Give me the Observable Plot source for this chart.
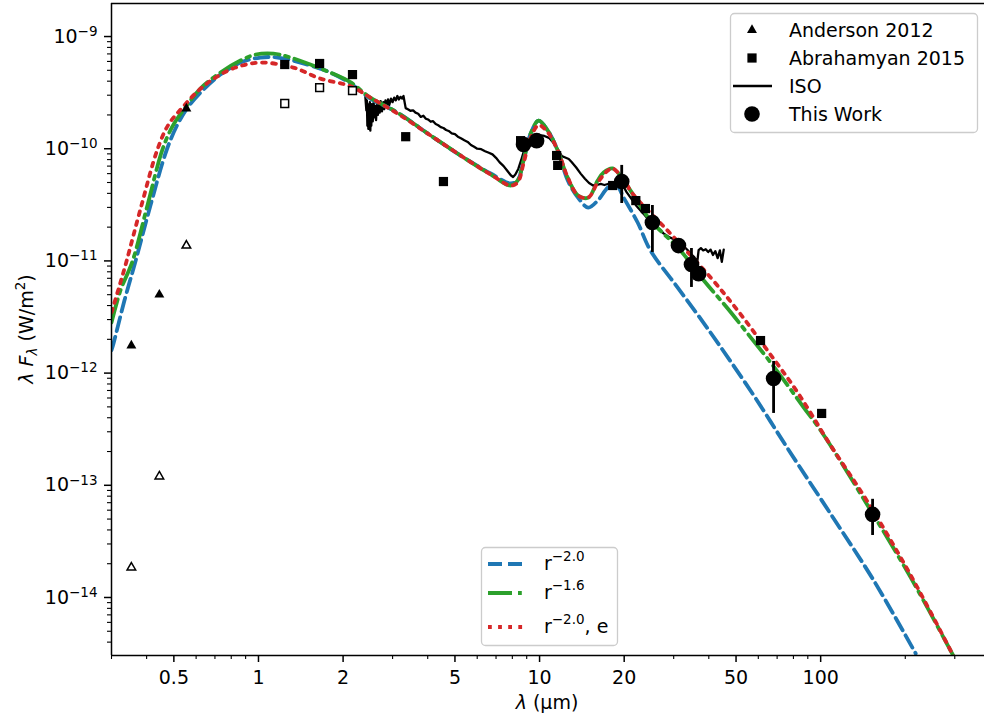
<!DOCTYPE html>
<html><head><meta charset="utf-8">
<script src="https://cdn.jsdelivr.net/npm/d3@7"></script>
<script src="https://cdn.jsdelivr.net/npm/@observablehq/plot@0.6"></script>
<style>
body{margin:0;background:#fff;font-family:"DejaVu Sans",sans-serif;}
#chart{position:relative;width:984px;height:719px;}
</style></head><body><div id="chart"></div>
<script>
// ---- Tick labels ----
const xMajorTicks = [0.5, 1, 2, 5, 10, 20, 50, 100];
const xMinorTicks = [0.3, 0.4, 0.6, 0.7, 0.8, 0.9, 3, 4, 6, 7, 8, 9, 30, 40, 60, 70, 80, 90, 200, 300];
const yMajorTicks = [1e-14, 1e-13, 1e-12, 1e-11, 1e-10, 1e-9];
const yMinorTicks = [4e-15,5e-15,6e-15,7e-15,8e-15,9e-15,
  2e-14,3e-14,4e-14,5e-14,6e-14,7e-14,8e-14,9e-14,
  2e-13,3e-13,4e-13,5e-13,6e-13,7e-13,8e-13,9e-13,
  2e-12,3e-12,4e-12,5e-12,6e-12,7e-12,8e-12,9e-12,
  2e-11,3e-11,4e-11,5e-11,6e-11,7e-11,8e-11,9e-11,
  2e-10,3e-10,4e-10,5e-10,6e-10,7e-10,8e-10,9e-10];

// ---- Anderson 2012 ----
const andersonLam = [0.353, 0.444, 0.554];
const andersonFlux = [1.76e-12, 5.0e-12, 2.28e-10];
const andersonOpenFlux = [1.85e-14, 1.2e-13, 1.37e-11];

// ---- Abrahamyan 2015 ----
const abrahamyanLam = [1.24, 1.65, 2.16, 3.34, 4.55, 8.56, 11.5, 11.6, 18.2, 22.0, 23.8, 61.1, 100.8];
const abrahamyanFlux = [5.63e-10, 5.75e-10, 4.58e-10, 1.28e-10, 5.1e-11, 1.18e-10, 8.7e-11, 7.1e-11, 4.7e-11, 3.45e-11, 2.93e-11, 1.95e-12, 4.37e-13];
const abrahamyanOpenLam = [1.24, 1.65, 2.16];
const abrahamyanOpenFlux = [2.53e-10, 3.51e-10, 3.3e-10];

// ---- This Work ----
const workLam = [8.77, 9.76, 19.6, 25.2, 31.2, 34.7, 36.8, 68.0, 153];
const workFlux = [1.09e-10, 1.18e-10, 5.1e-11, 2.2e-11, 1.37e-11, 9.3e-12, 7.7e-12, 8.95e-13, 5.5e-14];
const workLo = [1.0e-10, 1.1e-10, 3.25e-11, 1.19e-11, 1.3e-11, 5.8e-12, 7.4e-12, 4.37e-13, 3.57e-14];
const workHi = [1.18e-10, 1.27e-10, 7.1e-11, 3.12e-11, 1.45e-11, 1.29e-11, 8.0e-12, 1.27e-12, 7.5e-14];

// ---- ISO spectrum ----
const isoLam = [2.40,2.42,2.43,2.44,2.45,2.46,2.47,2.48,2.49,2.50,2.51,2.52,2.53,2.55,2.57,2.58,2.60,2.62,2.64,2.66,
  2.68,2.70,2.72,2.75,2.78,2.80,2.83,2.86,2.89,2.92,2.96,3.00,3.04,3.08,3.12,3.16,3.20,3.24,3.28,3.31,
  3.34,3.40,3.47,3.55,3.62,3.70,3.78,3.86,3.94,4.02,4.10,4.18,4.27,4.36,4.45,4.55,4.65,4.75,4.87,5.00,
  5.12,5.25,5.40,5.55,5.70,5.85,6.00,6.20,6.40,6.60,6.80,7.00,7.20,7.45,7.70,7.90,8.05,8.20,8.40,8.60,
  8.80,9.00,9.30,9.60,10.0,10.4,10.8,11.2,11.6,12.0,12.4,12.7,13.0,13.5,14.0,14.5,15.0,15.5,16.0,16.5,
  17.0,17.5,18.0,18.6,19.2,19.8,20.4,21.1,22.2,23.4,24.5,25.5,26.5,27.6,29.0,30.9,32.3,33.6,34.6,35.5,
  36.4,36.8,37.5,38.2,39.0,39.8,40.6,41.4,42.2,43.0,43.8,44.5,45.2];
const isoFlux = [2.9e-10,2.2e-10,2.7e-10,1.6e-10,2.5e-10,1.5e-10,2.3e-10,1.7e-10,2.6e-10,1.45e-10,2.2e-10,1.6e-10,2.5e-10,1.75e-10,2.6e-10,1.9e-10,2.4e-10,1.8e-10,2.55e-10,2.0e-10,
  2.5e-10,2.1e-10,2.65e-10,2.15e-10,2.6e-10,2.25e-10,2.7e-10,2.35e-10,2.75e-10,2.45e-10,2.8e-10,2.6e-10,2.85e-10,2.7e-10,2.95e-10,2.75e-10,2.9e-10,2.8e-10,2.95e-10,2.6e-10,
  2.3e-10,2.25e-10,2.18e-10,2.2e-10,2.1e-10,2.05e-10,1.92e-10,1.97e-10,1.85e-10,1.82e-10,1.74e-10,1.76e-10,1.66e-10,1.62e-10,1.56e-10,1.53e-10,1.47e-10,1.44e-10,1.37e-10,1.35e-10,
  1.28e-10,1.24e-10,1.19e-10,1.15e-10,1.08e-10,1.04e-10,1.0e-10,9.9e-11,9.5e-11,9.2e-11,8.9e-11,8.3e-11,7.6e-11,7.0e-11,6.3e-11,5.8e-11,5.6e-11,5.9e-11,6.6e-11,7.9e-11,
  9.6e-11,1.1e-10,1.22e-10,1.29e-10,1.32e-10,1.3e-10,1.25e-10,1.13e-10,9.9e-11,8.6e-11,8.3e-11,8.1e-11,7.6e-11,6.8e-11,6.0e-11,5.4e-11,4.95e-11,4.7e-11,4.75e-11,4.85e-11,
  4.75e-11,4.85e-11,4.9e-11,5.0e-11,5.05e-11,4.7e-11,4.1e-11,3.65e-11,3.05e-11,2.64e-11,2.3e-11,2.12e-11,1.95e-11,1.76e-11,1.62e-11,1.52e-11,1.38e-11,1.25e-11,1.15e-11,1.08e-11,
  9.8e-12,1.25e-11,1.3e-11,1.24e-11,1.27e-11,1.2e-11,1.26e-11,1.13e-11,1.22e-11,1.06e-11,1.24e-11,9.8e-12,1.26e-11];

// ---- Models ----
const blueLam = [0.30,0.305,0.3335,0.365,0.4127,0.4707,0.5149,0.5634,0.6477,0.7324,0.863,1.016,1.17,1.41,1.80,2.13,2.50,3.12,4.10,5.37,6.70,7.88,8.35,8.77,9.29,9.92,10.7,11.6,12.6,13.7,14.9,16.1,17.5,18.64,19.9,22.33,24.8,31.0,39.6,57.8,76.3,111.2,154.4,217.8];
const blueFlux = [1.6e-12,1.84e-12,4.43e-12,9.88e-12,3.12e-11,9.64e-11,1.64e-10,2.38e-10,3.51e-10,4.58e-10,5.86e-10,6.50e-10,6.50e-10,5.86e-10,4.78e-10,3.81e-10,2.80e-10,2.10e-10,1.31e-10,8.35e-11,6.01e-11,4.90e-11,5.21e-11,7.85e-11,1.36e-10,1.78e-10,1.45e-10,9.64e-11,5.21e-11,3.67e-11,2.99e-11,3.45e-11,4.51e-11,4.90e-11,3.67e-11,2.20e-11,1.24e-11,5.79e-12,2.50e-12,6.32e-13,2.13e-13,5.06e-14,1.42e-14,3.17e-15];
const greenLam = [0.30,0.3228,0.356,0.4027,0.4553,0.4943,0.5455,0.6217,0.7324,0.863,0.9757,1.13,1.30,1.80,2.13,2.50,3.12,4.10,5.37,6.70,7.88,8.35,8.77,9.29,9.92,10.7,11.6,12.6,13.7,14.9,16.1,16.9,18.2,19.9,24.8,27.6,31.7,38.4,46.7,55.0,68.0,87.1,100,147,209,297.4];
const greenFlux = [2.82e-12,5.45e-12,9.88e-12,3.12e-11,9.84e-11,1.58e-10,2.28e-10,3.44e-10,4.78e-10,6.11e-10,6.91e-10,7.05e-10,6.50e-10,4.78e-10,3.9e-10,2.85e-10,2.10e-10,1.31e-10,8.35e-11,5.9e-11,4.7e-11,5.2e-11,7.85e-11,1.36e-10,1.78e-10,1.45e-10,9.64e-11,5.5e-11,3.83e-11,3.67e-11,5.21e-11,6.14e-11,6.67e-11,5.21e-11,2.29e-11,1.75e-11,1.24e-11,6.69e-12,3.77e-12,2.25e-12,1.15e-12,4.93e-13,3.08e-13,6.61e-14,1.51e-14,2.98e-15];
const redLam = [0.30,0.3228,0.3391,0.3834,0.437,0.4783,0.5364,0.6115,0.7031,0.828,1.016,1.33,1.66,2.13,2.50,3.12,4.10,5.37,6.70,7.88,8.35,8.77,9.29,9.92,10.7,11.6,12.6,13.7,14.9,16.1,17.5,18.2,19.9,21.4,28.5,40.6,50.7,64.7,82.8,108.6,147,209,297.4];
const redFlux = [3.47e-12,6.42e-12,9.88e-12,3.12e-11,9.84e-11,1.64e-10,2.33e-10,3.30e-10,4.31e-10,5.29e-10,5.86e-10,5.29e-10,4.22e-10,3.6e-10,2.86e-10,2.06e-10,1.31e-10,8.35e-11,5.9e-11,4.7e-11,5.0e-11,7.4e-11,1.25e-10,1.62e-10,1.40e-10,9.64e-11,5.54e-11,3.83e-11,3.67e-11,5.0e-11,6.4e-11,6.67e-11,5.3e-11,3.99e-11,1.87e-11,7.11e-12,3.61e-12,1.59e-12,6.72e-13,2.26e-13,7.1e-14,1.58e-14,2.98e-15];

const pts = (l, f) => l.map((x, i) => ({lam: x, flux: f[i]}));
const xMin = 0.3, xMax = 382.7, yMin = 3.04e-15, yMax = 1.97e-9;

const work = workLam.map((x, i) => ({lam: x, flux: workFlux[i], lo: workLo[i], hi: workHi[i]}));

const chart = Plot.plot({
  width: 984, height: 719,
  marginLeft: 111, marginRight: 0, marginTop: 3, marginBottom: 64,
  style: {fontFamily: "'DejaVu Sans', sans-serif", fontSize: "19px", color: "#000", background: "#fff", overflow: "visible"},
  x: {type: "log", domain: [xMin, xMax], label: null},
  y: {type: "log", domain: [yMin, yMax], label: null},
  marks: [
    Plot.axisX({ticks: xMinorTicks, tickSize: 4, tickFormat: () => "", strokeWidth: 1.1, label: null}),
    Plot.axisX({ticks: xMajorTicks, tickSize: 7, tickFormat: () => "", strokeWidth: 1.5, label: null}),
    Plot.text(xMajorTicks, {x: d => d, frameAnchor: "bottom", lineAnchor: "top", dy: 15, text: d => String(d), fontSize: 19, fill: "#000"}),
    Plot.axisY({ticks: yMinorTicks, tickSize: 4, tickFormat: () => "", strokeWidth: 1.1, label: null}),
    Plot.axisY({ticks: yMajorTicks, tickSize: 7, tickPadding: 7, tickFormat: d => String(Math.round(Math.log10(d))), strokeWidth: 1.5, fontSize: 19, label: null}),
    Plot.line(pts(isoLam, isoFlux), {x: "lam", y: "flux", stroke: "#000", strokeWidth: 2.3, clip: true}),
    Plot.line(pts(blueLam, blueFlux), {x: "lam", y: "flux", stroke: "#1f77b4", strokeWidth: 3.8, strokeDasharray: "14,6", curve: "catmull-rom", clip: true}),
    Plot.line(pts(greenLam, greenFlux), {x: "lam", y: "flux", stroke: "#2ca02c", strokeWidth: 3.8, strokeDasharray: "24,6,3.8,6", curve: "catmull-rom", clip: true}),
    Plot.line(pts(redLam, redFlux), {x: "lam", y: "flux", stroke: "#d62728", strokeWidth: 3.8, strokeDasharray: "3.8,6.3", curve: "catmull-rom", clip: true}),
    Plot.dot(pts(andersonLam, andersonFlux), {x: "lam", y: "flux", symbol: "triangle", r: 3.7, fill: "#000", stroke: "none"}),
    Plot.dot(pts(andersonLam, andersonOpenFlux), {x: "lam", y: "flux", symbol: "triangle", r: 3.2, fill: "#fff", stroke: "#000", strokeWidth: 1.5}),
    Plot.dot(pts(abrahamyanLam, abrahamyanFlux), {x: "lam", y: "flux", symbol: "square", r: 5.2, fill: "#000", stroke: "none"}),
    Plot.dot(pts(abrahamyanOpenLam, abrahamyanOpenFlux), {x: "lam", y: "flux", symbol: "square", r: 4.4, fill: "#fff", stroke: "#000", strokeWidth: 1.5}),
    Plot.ruleX(work, {x: "lam", y1: "lo", y2: "hi", stroke: "#000", strokeWidth: 2.8}),
    Plot.dot(work, {x: "lam", y: "flux", r: 7.8, fill: "#000", stroke: "none"}),
    Plot.ruleX([xMin], {stroke: "#000", strokeWidth: 1.5}),
    Plot.ruleY([yMin], {stroke: "#000", strokeWidth: 1.5}),
    Plot.ruleY([yMax], {stroke: "#000", strokeWidth: 1.5})
  ]
});
document.getElementById("chart").appendChild(chart);

const ns = "http://www.w3.org/2000/svg";
const svg = d3.select(chart);

// superscript y tick labels
chart.querySelectorAll('g[aria-label="y-axis tick label"] text').forEach(t => {
  const s = t.textContent.trim();
  if (!s) return;
  const e = Math.round(+s.replace("\u2212", "-"));
  t.textContent = "";
  const a = document.createElementNS(ns, "tspan"); a.textContent = "10"; t.appendChild(a);
  const b = document.createElementNS(ns, "tspan");
  b.setAttribute("dy", "-0.5em"); b.setAttribute("font-size", "13.5px");
  b.textContent = "\u2212" + Math.abs(e); t.appendChild(b);
});

// axis labels
const xl = svg.append("text").attr("x", 547).attr("y", 709).attr("text-anchor", "middle")
  .attr("font-size", 19).attr("fill", "#000");
xl.append("tspan").attr("font-style", "italic").text("λ");
xl.append("tspan").text(" (µm)");

const yl = svg.append("text").attr("transform", "translate(33,329) rotate(-90)").attr("text-anchor", "middle")
  .attr("font-size", 19).attr("fill", "#000");
yl.append("tspan").attr("font-style", "italic").text("λ F");
yl.append("tspan").attr("font-style", "italic").attr("font-size", 13.5).attr("dy", 4).text("λ");
yl.append("tspan").attr("dy", -4).text(" (W/m");
yl.append("tspan").attr("font-size", 13.5).attr("dy", -8).text("2");
yl.append("tspan").attr("dy", 8).text(")");

// legend 1
const L1 = svg.append("g").attr("text-anchor", "start");
L1.append("rect").attr("x", 730.5).attr("y", 13.5).attr("width", 247).attr("height", 119).attr("rx", 4)
  .attr("fill", "rgba(255,255,255,0.8)").attr("stroke", "#cccccc").attr("stroke-width", 1.3);
const rows1 = [["Anderson 2012", "tri", 30], ["Abrahamyan 2015", "sq", 58], ["ISO", "line", 86], ["This Work", "circ", 114]];
rows1.forEach(([label, kind, y]) => {
  if (kind === "tri") L1.append("path").attr("d", d3.symbol(d3.symbolTriangle, 3.7 * 3.7 * Math.PI)()).attr("transform", `translate(752,${y})`).attr("fill", "#000");
  if (kind === "sq") L1.append("path").attr("d", d3.symbol(d3.symbolSquare, 5.2 * 5.2 * Math.PI)()).attr("transform", `translate(752,${y})`).attr("fill", "#000");
  if (kind === "line") L1.append("line").attr("x1", 733).attr("x2", 772).attr("y1", y).attr("y2", y).attr("stroke", "#000").attr("stroke-width", 2.3);
  if (kind === "circ") L1.append("circle").attr("cx", 752).attr("cy", y).attr("r", 7.8).attr("fill", "#000");
  L1.append("text").attr("text-anchor", "start").attr("x", 789).attr("y", y + 7).attr("font-size", 19).attr("fill", "#000").text(label);
});

// legend 2
const L2 = svg.append("g").attr("text-anchor", "start");
L2.append("rect").attr("x", 481.5).attr("y", 547.5).attr("width", 136).attr("height", 98).attr("rx", 4)
  .attr("fill", "rgba(255,255,255,0.8)").attr("stroke", "#cccccc").attr("stroke-width", 1.3);
const rows2 = [["\u22122.0", "", "#1f77b4", "14,6", 564], ["\u22121.6", "", "#2ca02c", "24,6,3.8,6", 593], ["\u22122.0", ", e", "#d62728", "3.8,6.3", 627]];
rows2.forEach(([sup, tail, col, dash, y]) => {
  L2.append("line").attr("x1", 488).attr("x2", 526).attr("y1", y).attr("y2", y)
    .attr("stroke", col).attr("stroke-width", 3.8).attr("stroke-dasharray", dash);
  const t = L2.append("text").attr("text-anchor", "start").attr("x", 544).attr("y", y + 6).attr("font-size", 19).attr("fill", "#000");
  t.append("tspan").text("r");
  t.append("tspan").attr("font-size", 13.5).attr("dy", -9).text(sup);
  if (tail) t.append("tspan").attr("dy", 9).text(tail);
});
</script></body></html>
